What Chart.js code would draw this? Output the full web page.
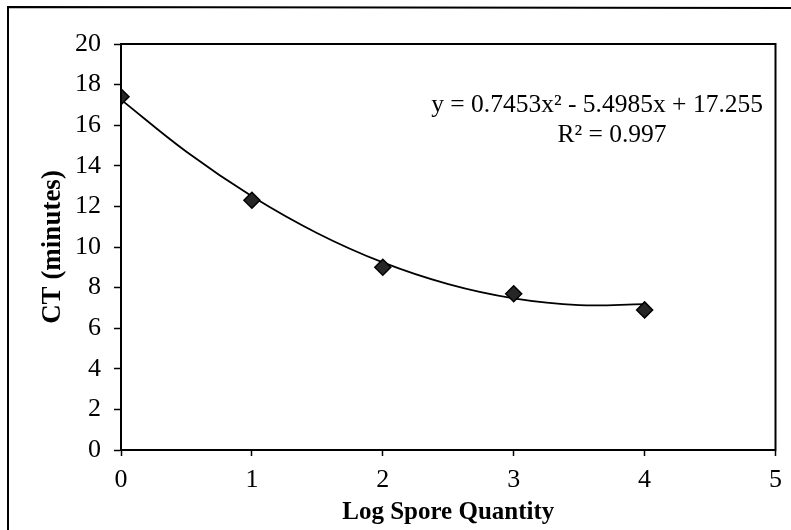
<!DOCTYPE html>
<html>
<head>
<meta charset="utf-8">
<script src="https://cdn.jsdelivr.net/npm/chart.js@4.4.1/dist/chart.umd.min.js"></script>
<style>
  html, body { margin: 0; padding: 0; background: #ffffff; }
  #wrap { width: 791px; height: 530px; position: relative; }
</style>
</head>
<body>
<div id="wrap"><canvas id="c" width="791" height="530"></canvas></div>
<script>
// ---- data ----
const logSpore = [0, 1, 2, 3, 4];
const ctMinutes = [17.4, 12.3, 9.0, 7.7, 6.9];
// trendline
const trendX = [0, 0.5, 1, 1.5, 2, 2.5, 3, 3.5, 4];
const trendY = [17.26, 14.69, 12.50, 10.68, 9.24, 8.17, 7.47, 7.14, 7.19];
const xTitle = 'Log Spore Quantity';
const yTitle = 'CT (minutes)';
const eqLine1 = 'y = 0.7453x² - 5.4985x + 17.255';
const eqLine2 = 'R² = 0.997';

const pts = logSpore.map((x, i) => ({ x: x, y: ctMinutes[i] }));
const trendPts = trendX.map((x, i) => ({ x: x, y: trendY[i] }));

const serif = "'Liberation Serif', 'Times New Roman', serif";

const decor = {
  id: 'decor',
  beforeDraw(chart) {
    const ctx = chart.ctx;
    ctx.save();
    ctx.fillStyle = '#ffffff';
    ctx.fillRect(0, 0, chart.width, chart.height);
    ctx.strokeStyle = '#000';
    ctx.lineWidth = 2;
    ctx.beginPath();
    ctx.moveTo(8, 530);
    ctx.lineTo(8, 7);
    ctx.lineTo(791, 8);
    ctx.stroke();
    ctx.restore();
  },
  afterDatasetsDraw(chart) {
    const ctx = chart.ctx;
    const a = chart.chartArea;
    ctx.save();
    ctx.strokeStyle = '#000';
    ctx.lineWidth = 2;
    ctx.strokeRect(a.left, a.top, a.right - a.left, a.bottom - a.top);
    ctx.fillStyle = '#000';
    ctx.font = '25.5px ' + serif;
    ctx.textBaseline = 'alphabetic';
    ctx.textAlign = 'right';
    ctx.fillText(eqLine1, 763, 112);
    ctx.textAlign = 'center';
    ctx.fillText(eqLine2, 612, 142);
    ctx.restore();
  }
};

new Chart(document.getElementById('c'), {
  type: 'scatter',
  data: {
    datasets: [
      {
        label: 'trend',
        type: 'line',
        data: trendPts,
        borderColor: '#000',
        borderWidth: 1.8,
        pointRadius: 0,
        tension: 0.4,
        fill: false,
        order: 2
      },
      {
        label: 'CT',
        data: pts,
        pointStyle: 'rectRot',
        pointRadius: 8,
        pointBackgroundColor: '#262626',
        pointBorderColor: '#000',
        pointBorderWidth: 1.5,
        order: 1
      }
    ]
  },
  options: {
    responsive: false,
    animation: false,
    layout: { padding: { top: 44, right: 10, left: 0, bottom: 0 } },
    plugins: { legend: { display: false }, tooltip: { enabled: false } },
    scales: {
      x: {
        type: 'linear',
        min: 0, max: 5,
        ticks: { stepSize: 1, color: '#000', font: { family: serif, size: 26 }, padding: 9 },
        grid: { drawOnChartArea: false, color: '#000', tickLength: 6, tickWidth: 1.5 },
        border: { color: '#000', width: 2 },
        title: { display: true, text: xTitle, color: '#000', font: { family: serif, size: 25, weight: 'bold' }, padding: { top: 0, bottom: 2 } },
        afterFit(s) { s.height = 80; }
      },
      y: {
        min: 0, max: 20,
        ticks: { stepSize: 2, color: '#000', font: { family: serif, size: 26 }, padding: 13 },
        grid: { drawOnChartArea: false, color: '#000', tickLength: 7, tickWidth: 1.5 },
        border: { color: '#000', width: 2 },
        title: { display: true, text: yTitle, color: '#000', font: { family: serif, size: 27, weight: 'bold' }, padding: { top: 37, bottom: 0 } },
        afterFit(s) { s.width = 121; }
      }
    }
  },
  plugins: [decor]
});
</script>
</body>
</html>
